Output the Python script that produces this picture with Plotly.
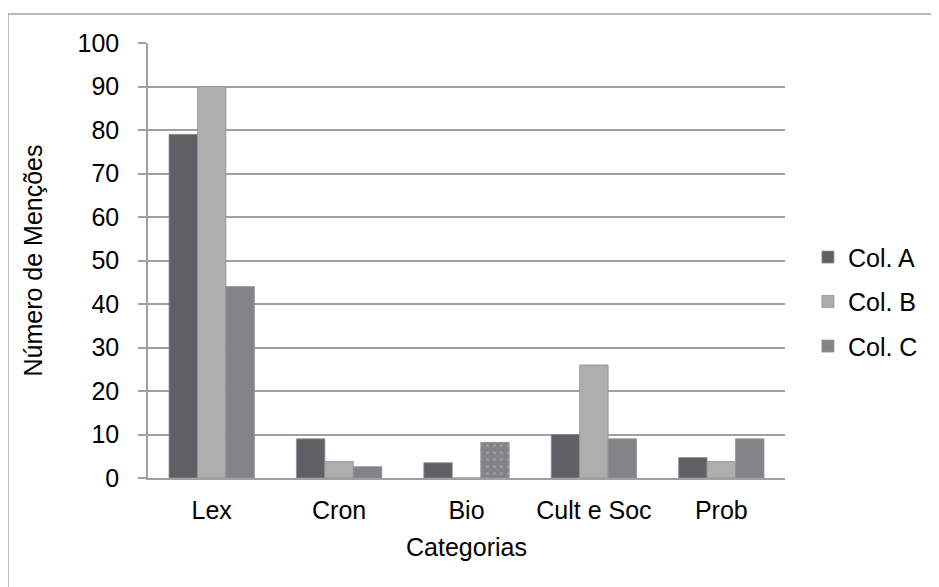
import plotly.graph_objects as go

categories = ["Lex", "Cron", "Bio", "Cult e Soc", "Prob"]
col_a = [79, 9, 3.5, 10, 4.7]
col_b = [90, 3.8, 0, 26, 3.8]
col_c = [44, 2.6, 8.2, 9, 9]
series_names = ["Col. A", "Col. B", "Col. C"]
y_ticks = [0, 10, 20, 30, 40, 50, 60, 70, 80, 90, 100]

colors = ["#5e6064", "#adafaf", "#838487"]
patterns_c = ["", "", ".", "", ""]

L, T, W, H = 140, 35, 637, 435

fig = go.Figure()
for i, (name, vals) in enumerate(zip(series_names, [col_a, col_b, col_c])):
    marker = dict(color=colors[i], line=dict(color="#8f9194", width=0.8))
    if i == 2:
        marker["pattern"] = dict(shape=patterns_c, fgcolor="#b5b5b5", bgcolor=colors[i], size=7, solidity=0.15)
    fig.add_trace(go.Bar(x=categories, y=vals, name=name, marker=marker, legendgroup=name))

fig.update_layout(
    width=939, height=587,
    margin=dict(l=L, r=939 - L - W, t=T, b=587 - T - H),
    paper_bgcolor="white", plot_bgcolor="white",
    font=dict(family="Liberation Sans, Arial, sans-serif", size=25, color="black"),
    barmode="group", bargap=0.33, bargroupgap=0,
    showlegend=True,
    legend=dict(x=1.036, y=0.405, xanchor="left", yanchor="middle",
                traceorder="grouped", tracegroupgap=9,
                font=dict(size=25), itemwidth=30),
    xaxis=dict(title=dict(text="Categorias", font=dict(size=25), standoff=16),
               showline=True, linecolor="#a0a0a0", linewidth=1.5,
               ticks="", ticklabelstandoff=9, showgrid=False),
    yaxis=dict(title=dict(text="Número de Menções", font=dict(size=25), standoff=28),
               range=[0, 100], tickvals=y_ticks, showgrid=True,
               gridcolor="#a0a0a0", gridwidth=1.5, zeroline=False,
               showline=True, linecolor="#a0a0a0", linewidth=1.5,
               ticks="outside", ticklen=8, tickcolor="#a0a0a0", tickwidth=1.5,
               ticklabelstandoff=14),
    shapes=[dict(type="rect", xref="paper", yref="paper",
                 x0=-L / W, x1=1.6, y0=-0.5, y1=1 + (T - 6) / H,
                 line=dict(color="#a0a0a0", width=1.5), layer="below")],
)

fig.write_html("out.html")
